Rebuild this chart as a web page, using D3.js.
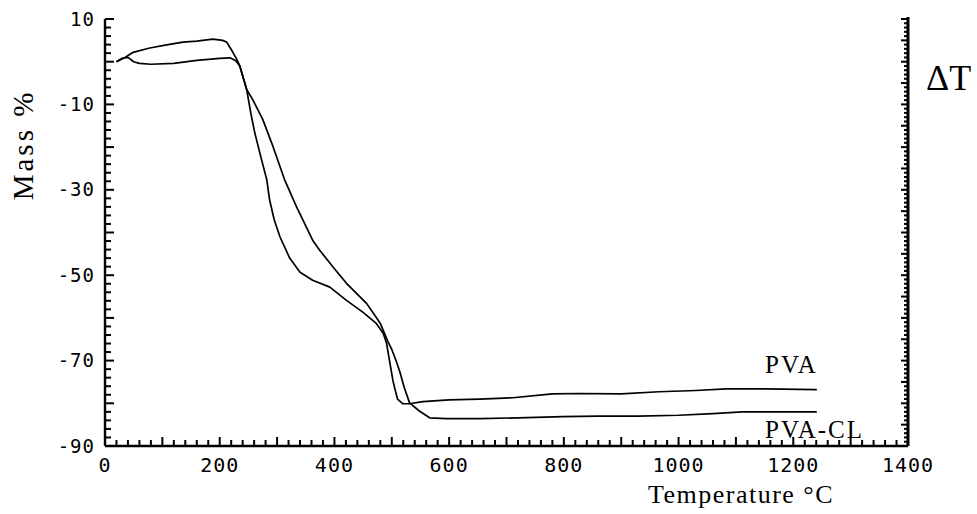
<!DOCTYPE html>
<html>
<head>
<meta charset="utf-8">
<script src="https://cdn.jsdelivr.net/npm/d3@7"></script>
<style>
  body { margin: 0; background: #fff; }
  svg { display: block; }
  .tick-label { font-family: "DejaVu Sans Mono", monospace; fill: #000; }
  .serif { font-family: "Liberation Serif", "Times New Roman", serif; fill: #000; }
  .curve { fill: none; stroke: #000; stroke-width: 1.7; stroke-linejoin: round; }
</style>
</head>
<body>
<div id="chart"></div>
<script>
// TGA curves
const tempTicks = [0, 200, 400, 600, 800, 1000, 1200, 1400];
const massTicks = [10, -10, -30, -50, -70, -90];

// [temperature °C, mass %]
const pvaPoints = [
  [20, 0], [35, 1.0], [49, 2.2], [78, 3.2], [110, 4.0], [136, 4.6], [160, 4.8],
  [188, 5.3], [205, 5.0], [212, 4.6], [223, 2.2], [230, 0.5], [235, -1.0],
  [247, -6.5], [254, -11.9], [261, -16.6], [273, -23], [282, -27.6], [287, -32.4],
  [295, -37], [305, -41], [322, -46], [340, -49.3], [362, -51.2], [392, -52.8],
  [421, -55.9], [450, -58.7], [473, -61.3], [485, -63.6], [491, -66], [496, -70],
  [502, -74.7], [505, -76.4], [510, -79], [519, -80.1], [531, -80.1], [554, -79.6],
  [600, -79.2], [653, -79], [711, -78.7], [780, -77.8], [827, -77.7], [900, -77.8],
  [966, -77.3], [1030, -77.0], [1083, -76.6], [1150, -76.6], [1241, -76.8]
];

const pvaClPoints = [
  [20, 0], [30, 0.8], [40, 1.0], [50, 0.0], [60, -0.4], [80, -0.6], [120, -0.4],
  [160, 0.3], [200, 0.8], [218, 0.9], [228, 0.2], [235, -1.0], [247, -6.5],
  [258, -9], [275, -13.5], [293, -19.9], [313, -27.6], [334, -34], [362, -41.8],
  [374, -44.1], [400, -48.5], [421, -51.9], [456, -56.6], [473, -59.9], [480, -61.3],
  [486, -63.2], [493, -65.5], [500, -67.4], [508, -70.2], [514, -72.6], [522, -76.4],
  [531, -79.9], [548, -81.8], [566, -83.4], [595, -83.6], [653, -83.6], [720, -83.4],
  [798, -83.1], [860, -83.0], [930, -83.0], [1000, -82.8], [1060, -82.4], [1111, -82],
  [1241, -82]
];

const width = 977, height = 514;
const x = d3.scaleLinear().domain([0, 1400]).range([105, 908]);
const y = d3.scaleLinear().domain([-90, 10]).range([446, 19]);

const svg = d3.select("#chart").append("svg")
  .attr("width", width)
  .attr("height", height);

const x0 = x(0), x1 = x(1400), yb = y(-90);

// bottom ticks (inward): minor every 20, longer every 100
svg.append("g").selectAll("line")
  .data(d3.range(20, 1400, 20))
  .join("line")
  .attr("x1", d => x(d)).attr("x2", d => x(d))
  .attr("y1", yb).attr("y2", d => yb - (d % 100 === 0 ? 9 : 6))
  .attr("stroke", "#000").attr("stroke-width", 2);

// left ticks (inward): minor every 2, longer every 10
svg.append("g").selectAll("line")
  .data(d3.range(-88, 11, 2))
  .join("line")
  .attr("x1", x0).attr("x2", d => x0 + (d % 10 === 0 ? 9 : 6))
  .attr("y1", d => y(d)).attr("y2", d => y(d))
  .attr("stroke", "#000").attr("stroke-width", 2);

// right (ΔT) ticks, dense
svg.append("g").selectAll("line")
  .data(d3.range(-89, 11, 1))
  .join("line")
  .attr("x1", x1).attr("x2", d => x1 - (d % 5 === 0 ? 7 : 4))
  .attr("y1", d => y(d)).attr("y2", d => y(d))
  .attr("stroke", "#000").attr("stroke-width", 2);

// axis lines
svg.append("line")
  .attr("x1", x0).attr("x2", x1).attr("y1", yb).attr("y2", yb)
  .attr("stroke", "#000").attr("stroke-width", 2.4);
svg.append("line")
  .attr("x1", x0).attr("x2", x0).attr("y1", y(10)).attr("y2", yb)
  .attr("stroke", "#000").attr("stroke-width", 2.4);
svg.append("line")
  .attr("x1", x1).attr("x2", x1).attr("y1", y(10) - 2).attr("y2", yb)
  .attr("stroke", "#000").attr("stroke-width", 3);

// tick labels
svg.append("g").selectAll("text")
  .data(tempTicks)
  .join("text")
  .attr("class", "tick-label")
  .attr("x", d => x(d)).attr("y", yb + 26)
  .attr("text-anchor", "middle")
  .attr("font-size", 20)
  .attr("letter-spacing", 1)
  .text(d => String(d));

svg.append("g").selectAll("text")
  .data(massTicks)
  .join("text")
  .attr("class", "tick-label")
  .attr("x", x0 - 10).attr("y", d => y(d))
  .attr("dy", "0.35em")
  .attr("text-anchor", "end")
  .attr("font-size", 19)
  .attr("letter-spacing", 1)
  .text(d => String(d));

// curves
const line = d3.line().x(d => x(d[0])).y(d => y(d[1]));
svg.append("path").attr("class", "curve").attr("d", line(pvaPoints));
svg.append("path").attr("class", "curve").attr("d", line(pvaClPoints));

// labels
svg.append("text").attr("class", "serif")
  .attr("transform", `translate(33,${145}) rotate(-90)`)
  .attr("text-anchor", "middle")
  .attr("font-size", 29)
  .attr("letter-spacing", 3)
  .text("Mass %");

svg.append("text").attr("class", "serif")
  .attr("x", 741).attr("y", 503)
  .attr("text-anchor", "middle")
  .attr("font-size", 26)
  .attr("letter-spacing", 1.5)
  .text("Temperature \u00B0C");

svg.append("text").attr("class", "serif")
  .attr("x", 926).attr("y", 90)
  .attr("font-size", 36)
  .text("\u0394T");

svg.append("text").attr("class", "serif")
  .attr("x", 765).attr("y", 373)
  .attr("font-size", 25)
  .attr("letter-spacing", 2)
  .text("PVA");

svg.append("text").attr("class", "serif")
  .attr("x", 765).attr("y", 438)
  .attr("font-size", 25)
  .attr("letter-spacing", 2)
  .text("PVA-CL");
</script>
</body>
</html>
